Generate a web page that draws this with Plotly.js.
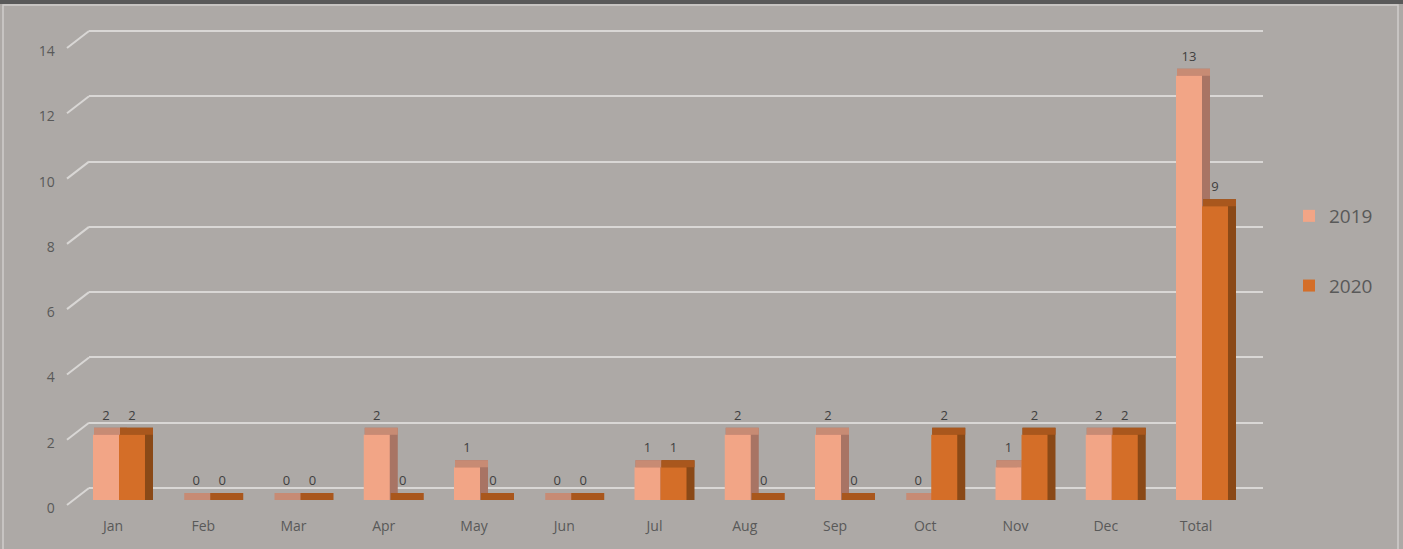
<!DOCTYPE html>
<html><head><meta charset="utf-8">
<script src="https://cdn.plot.ly/plotly-3.0.1.min.js"></script>
<style>html,body{margin:0;padding:0;background:#ADA9A6;}#chart{width:1403px;height:549px;}</style>
</head><body><div id="chart"></div>
<script>
// ---- data ----
const months = ['Jan','Feb','Mar','Apr','May','Jun','Jul','Aug','Sep','Oct','Nov','Dec','Total'];
const values2019 = [2,0,0,2,1,0,1,2,2,0,1,2,13];
const values2020 = [2,0,0,0,0,0,1,0,0,2,2,2,9];
const seriesNames = ['2019','2020'];
const yTicks = [0,2,4,6,8,10,12,14];

// ---- styling / geometry ----
const W = 1403, H = 549;
const K = 32.64;            // px per unit
const STEP = 90.25;         // px per category
const FIRST = 119;          // px centre of first category (front plane)
const BG = '#ADA9A6';
const GRID = '#D9D7D5';
const TXT = '#595959';
const colFront = ['#F2A586', '#D46E28'];
const colTop   = ['#C78B74', '#A9571D'];
const colSide  = ['#A87464', '#8A4917'];

function xdom(first, r0, r1) { return [(first + STEP * r0) / W, (first + STEP * r1) / W]; }
function ydom(p0, r0, r1) { return [1 - (p0 - K * r0) / H, 1 - (p0 - K * r1) / H]; }
const XR = [-0.5, 12.5];
const YR = [-0.6, 14.5];
const hidden = {visible:false, showgrid:false, zeroline:false, fixedrange:true};

const data = [];
// back wall (grid carrier)
data.push({type:'scatter', mode:'none', x:[0,1], y:[0,14], xaxis:'x', yaxis:'y', showlegend:false, hoverinfo:'skip'});
// depth (side + top faces)
[values2019, values2020].forEach((vals, s) => {
  data.push({type:'bar', x:months, y:vals, xaxis:'x2', yaxis:'y2', showlegend:false, hoverinfo:'skip',
    marker:{color:colSide[s], line:{color:colSide[s], width:7}},
    error_y:{type:'constant', value:0, visible:true, color:colTop[s], thickness:7, width:16.5}});
});
// front faces
[values2019, values2020].forEach((vals, s) => {
  data.push({type:'bar', name:seriesNames[s], legendgroup:seriesNames[s], x:months, y:vals, xaxis:'x3', yaxis:'y3',
    marker:{color:colFront[s]}, hoverinfo:'x+y'});
});
// data labels
[values2019, values2020].forEach((vals, s) => {
  data.push({type:'bar', x:months, y:vals, xaxis:'x3', yaxis:'y4', showlegend:false, hoverinfo:'skip',
    marker:{color:'rgba(0,0,0,0)'}, text:vals.map(String), textposition:'outside', cliponaxis:false,
    textfont:{size:13, color:'#404040'}});
});
// axis label carrier
data.push({type:'scatter', mode:'none', x:months, y:values2019, xaxis:'x5', yaxis:'y5', showlegend:false, hoverinfo:'skip'});

const shapes = [
  {type:'rect', xref:'paper', yref:'paper', x0:0, x1:1, y0:1 - 4/H, y1:1, fillcolor:'#595959', line:{width:0}},
  {type:'rect', xref:'paper', yref:'paper', x0:3/W, x1:1398/W, y0:-0.02, y1:1 - 5/H, fillcolor:'rgba(0,0,0,0)', line:{color:'#CFCDCB', width:1.5}},
];
yTicks.forEach(v => shapes.push({type:'line', xref:'paper', yref:'y', layer:'below',
  x0:67/W, x1:89/W, y0:v - 17/K, y1:v, line:{color:GRID, width:2}}));

const layout = {
  width:W, height:H, margin:{l:0,r:0,t:0,b:0},
  paper_bgcolor:BG, plot_bgcolor:'rgba(0,0,0,0)',
  font:{family:'Open Sans, sans-serif', color:TXT},
  barmode:'group', bargap:0.424, bargroupgap:0,
  showlegend:true,
  legend:{x:1289/W, y:1 - 197/H, xanchor:'left', yanchor:'top', bgcolor:'rgba(0,0,0,0)',
    font:{size:19, color:TXT}, traceorder:'grouped', tracegroupgap:42},
  xaxis:{domain:[89/W, 1263/W], range:[0,1], anchor:'y', showgrid:false, zeroline:false, showticklabels:false, ticks:'', showline:false, fixedrange:true},
  yaxis:{domain:ydom(488, -1, 14.5), range:[-1,14.5], anchor:'x', showgrid:true, gridcolor:GRID, gridwidth:2,
    tickvals:yTicks, showticklabels:false, ticks:'', zeroline:false, showline:false, fixedrange:true},
  xaxis2:Object.assign({domain:xdom(FIRST + 4.5, XR[0], XR[1]), range:XR, anchor:'y2', type:'category'}, hidden),
  yaxis2:Object.assign({domain:ydom(496.5, YR[0], YR[1]), range:YR, anchor:'x2'}, hidden),
  xaxis3:Object.assign({domain:xdom(FIRST, XR[0], XR[1]), range:XR, anchor:'y3', type:'category'}, hidden),
  yaxis3:Object.assign({domain:ydom(500, YR[0], YR[1]), range:YR, anchor:'x3'}, hidden),
  yaxis4:Object.assign({domain:ydom(492, YR[0], YR[1]), range:YR, anchor:'x3'}, hidden),
  xaxis5:{domain:xdom(FIRST - 6, XR[0], XR[1]), range:XR, anchor:'y5', type:'category', showgrid:false, zeroline:false,
    showline:false, ticks:'', tickfont:{size:14, color:TXT}, ticklabelstandoff:8, fixedrange:true},
  yaxis5:{domain:ydom(508, 0, 14), range:[0,14], anchor:'x5', showgrid:false, zeroline:false, showline:false,
    ticks:'', tickvals:yTicks, tickfont:{size:14, color:TXT}, ticklabelstandoff:12, fixedrange:true},
  shapes:shapes
};
Plotly.newPlot('chart', data, layout, {displayModeBar:false, staticPlot:true});
</script></body></html>
